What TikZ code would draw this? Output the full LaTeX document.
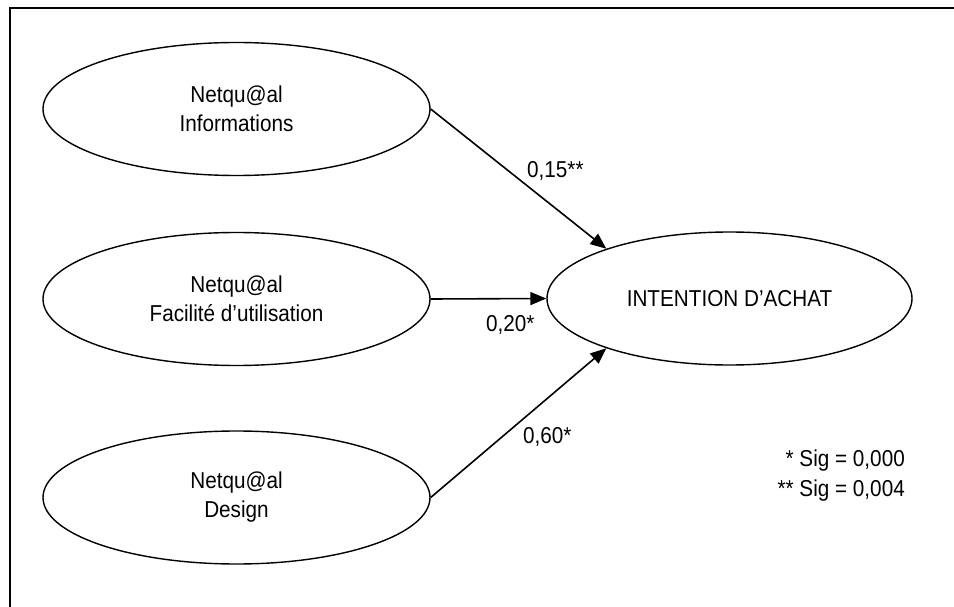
\documentclass[tikz,border=0pt]{standalone}
\usepackage{fontspec}
\setmainfont[FakeStretch=0.9]{Liberation Sans}
\usetikzlibrary{arrows.meta,shapes.geometric}
\tikzset{
  construct/.style = {ellipse, draw=black, line width=1.4pt, align=center,
    inner sep=0pt, minimum width=387pt, minimum height=133pt,
    font=\fontsize{23}{29}\selectfont},% variable latente
  intent/.style = {construct, minimum width=365pt, minimum height=133pt},% variable expliquee
  coef/.style = {inner sep=0pt, font=\fontsize{23}{30}\selectfont},% coefficient
  rel/.style = {-{Triangle[length=16pt,width=13pt]}, line width=1.6pt}% lien
}

\begin{document}
\begin{tikzpicture}[x=1pt,y=-1pt]
    \useasboundingbox (0,0) rectangle (954,607);
    \draw [line width=2pt] (954,8) -- (10,8) -- (10,607);
    \node [construct] (info) at (236.5,109) {Netqu@al\\Informations};
    \node [construct] (facil) at (236.5,299) {Netqu@al\\Facilité d’utilisation};
    \node [construct] (design) at (236.5,497.5) {Netqu@al\\Design};
    \node [intent] (achat) at (729.5,298.5) {INTENTION D’ACHAT};
    \draw [rel] (info.east) -- (achat.158);
    \draw [rel] (facil.east) -- (achat.west);
    \draw [rel] (design.east) -- (achat.202);
    \node [coef, anchor=base west] (c_info) at (527,178) {0,15**};
    \node [coef, anchor=base west] (c_facil) at (486,331) {0,20*};
    \node [coef, anchor=base west] (c_design) at (523,443) {0,60*};
    \node [coef, align=right, anchor=base east] (sig) at (905,496) {* Sig = 0,000\\** Sig = 0,004};
\end{tikzpicture}
\end{document}
